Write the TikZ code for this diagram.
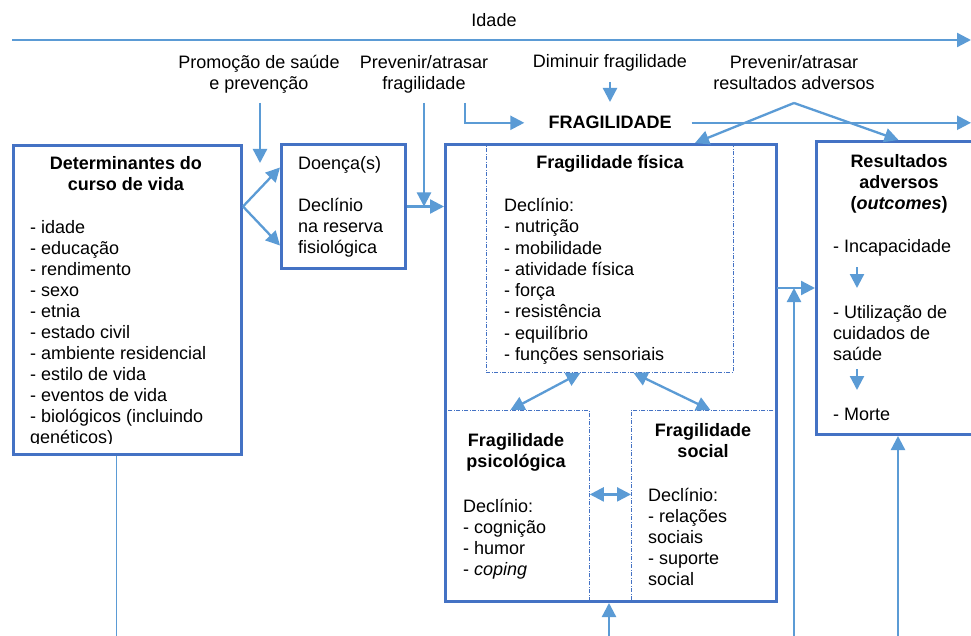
\documentclass[tikz,border=0pt]{standalone}
\usepackage{fontspec}
\setmainfont{Liberation Sans}
\usetikzlibrary{arrows.meta}
\definecolor{boxblue}{HTML}{4472C4}
\definecolor{arrblue}{HTML}{5B9BD5}
\begin{document}
\begin{tikzpicture}[x=1pt,y=-1pt,
  txt/.style={inner sep=0pt, font=\fontsize{18}{21}\selectfont},
  ttl/.style={inner sep=0pt, font=\fontsize{18}{21}\selectfont\bfseries, align=center, anchor=north},
  lst/.style={txt, align=left, anchor=north west},
  box/.style={draw=boxblue, line width=3pt, rectangle, anchor=north west, inner sep=0pt},
  dbox/.style={draw=boxblue, line width=0.8pt, dash pattern=on 4pt off 1.5pt on 1pt off 1.5pt, rectangle, anchor=north west, inner sep=0pt},
  arr/.style={draw=arrblue, line width=2.3pt, -{Triangle[length=14pt,width=14pt]}},
  darr/.style={draw=arrblue, line width=2.3pt, {Triangle[length=14pt,width=14pt]}-{Triangle[length=14pt,width=14pt]}},
  thinline/.style={draw=arrblue, line width=1pt},
]
\clip (0,0) rectangle (971,636);
\fill[white] (0,0) rectangle (971,636);

% dashed sub-boxes
\node[dbox, minimum width=247pt, minimum height=229pt] (fis) at (486,143) {};
\node[dbox, minimum width=145pt, minimum height=190pt] (psi) at (444,410) {};
\node[dbox, minimum width=144pt, minimum height=190pt] (soc) at (631,410) {};
% main boxes
\node[box, minimum width=228pt, minimum height=309pt] (det) at (12,144) {};
\node[box, minimum width=124pt, minimum height=124pt] (doe) at (280,143) {};
\node[box, minimum width=331pt, minimum height=457pt] (frag) at (444,143) {};
\node[box, minimum width=170pt, minimum height=293pt] (res) at (815,140) {};

% top texts
\node[txt, anchor=base] (idade) at (494,27) {Idade};
\node[txt, align=center, anchor=north] (prom) at (259,53.3) {\strut Promoção de saúde\\e prevenção};
\node[txt, align=center, anchor=north] (prevf) at (424,53.3) {\strut Prevenir/atrasar\\fragilidade};
\node[txt, anchor=base] (dimf) at (610,68) {Diminuir fragilidade};
\node[txt, align=center, anchor=north] (prevr) at (794,53.3) {\strut Prevenir/atrasar\\resultados adversos};
\node[txt, font=\fontsize{18}{21}\selectfont\bfseries, anchor=base] (fragt) at (610,129) {FRAGILIDADE};

% determinantes
\node[ttl] (dett) at (126,154.3) {\strut Determinantes do\\curso de vida};
\begin{scope}
\clip (12,144) rectangle (240,443);
\node[lst] (detl) at (30,218.3) {\strut - idade\\- educação\\- rendimento\\- sexo\\- etnia\\- estado civil\\- ambiente residencial\\- estilo de vida\\- eventos de vida\\- biológicos (incluindo\\genéticos)};
\end{scope}

% doenca
\node[lst] (doet) at (298,154.3) {\strut Doença(s)\\[21pt]Declínio\\na reserva\\fisiológica};

% fragilidade fisica
\node[ttl] (fist) at (610,153.3) {\strut Fragilidade física};
\node[lst, font=\fontsize{18}{21.3}\selectfont] (fisl) at (504,196.3) {\strut Declínio:\\- nutrição\\- mobilidade\\- atividade física\\- força\\- resistência\\- equilíbrio\\- funções sensoriais};

% psicologica
\node[ttl] (psit) at (516,431.3) {\strut Fragilidade\\psicológica};
\node[lst] (psil) at (463,497.3) {\strut Declínio:\\- cognição\\- humor\\- \textit{coping}};

% social
\node[ttl] (soct) at (703,421.3) {\strut Fragilidade\\social};
\node[lst] (socl) at (648,486.3) {\strut Declínio:\\- relações\\sociais\\- suporte\\social};

% resultados
\node[ttl] (rest) at (899,152.3) {\strut Resultados\\adversos\\(\textit{outcomes})};
\node[txt, anchor=base west] (r1) at (833,253) {- Incapacidade};
\node[lst] (r2) at (833,303.3) {\strut - Utilização de\\cuidados de\\saúde};
\node[txt, anchor=base west] (r3) at (833,420) {- Morte};

% coordinates for free ends
\coordinate (idL) at (12,40);
\coordinate (idR) at (971,40);
\coordinate (promA) at (260,103);
\coordinate (promB) at (260,163);
\coordinate (pfA) at (424,103);
\coordinate (elA) at (465,103);
\coordinate (dimA) at (610,82);
\coordinate (dimB) at (610,102);
\coordinate (pk) at (794,103);
\coordinate (fr) at (776.5,288);
\coordinate (b1) at (794,636);
\coordinate (b2) at (898,636);
\coordinate (b3) at (609,636);
\coordinate (b4) at (116,636);
\coordinate (s1a) at (857,267);
\coordinate (s1b) at (857,288);
\coordinate (s2a) at (857,369);
\coordinate (s2b) at (857,390);

% connectors
\draw[arr] (idL) -- (idR);
\draw[arr] (promA) -- (promB);
\draw[arr] (pfA) -- (pfA |- doe.east);
\draw[arr] (elA) |- ([xshift=-24pt]fragt.west);
\draw[arr] (dimA) -- (dimB);
\draw[arr] ([xshift=20pt]fragt.east) -- (fragt.east -| idR);
\draw[arr] (pk) -- ([xshift=-83pt]frag.north east);
\draw[arr] (pk) -- ([xshift=-3pt]res.north);
\draw[arr] (det.east |- doe.west) -- ([yshift=39pt]doe.west);
\draw[arr] (det.east |- doe.west) -- ([yshift=-39pt]doe.west);
\draw[arr] (doe.east) -- (doe.east -| frag.west);
\draw[darr] ([xshift=-29.5pt]fis.south) -- ([xshift=-6.5pt]psi.north);
\draw[darr] ([xshift=23.5pt]fis.south) -- ([xshift=7pt]soc.north);
\draw[darr] ([yshift=11pt]psi.east) -- ([yshift=11pt]soc.west);
\draw[arr] (fr) -- (fr -| res.west);
\draw[arr] (b1) -- (b1 |- fr);
\draw[arr] (b2) -- (b2 |- res.south);
\draw[arr] (b3) -- (b3 |- frag.south);
\draw[thinline] (b4 |- det.south) -- (b4);
\draw[arr] (s1a) -- (s1b);
\draw[arr] (s2a) -- (s2b);
\end{tikzpicture}
\end{document}
